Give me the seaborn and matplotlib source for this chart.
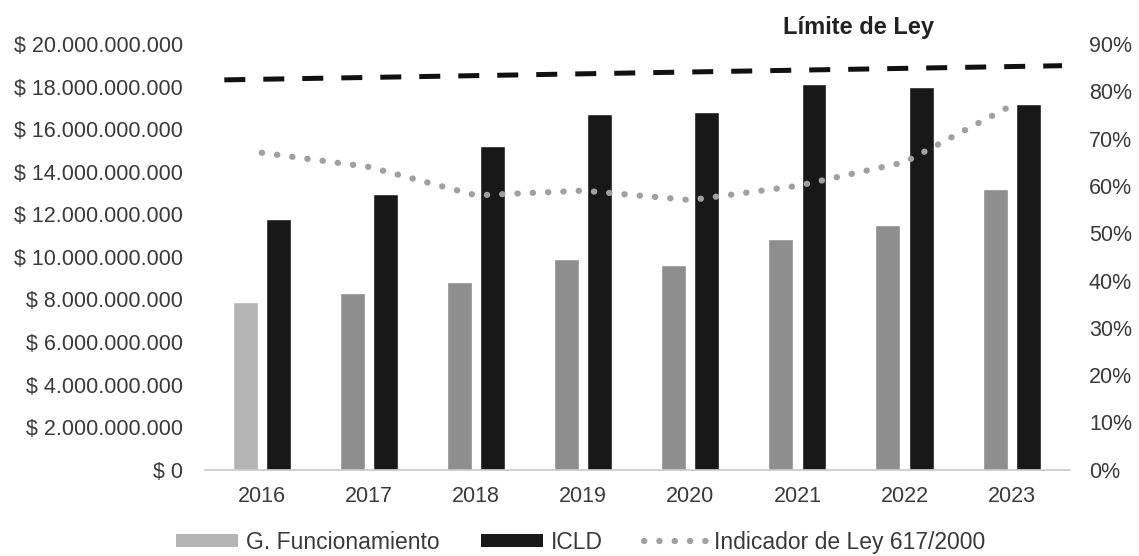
import pandas as pd
import matplotlib.pyplot as plt
import matplotlib.ticker as mticker
import seaborn as sns
from matplotlib.patches import Patch
from matplotlib.lines import Line2D

years = ['2016', '2017', '2018', '2019', '2020', '2021', '2022', '2023']
g_funcionamiento = [7.9e9, 8.3e9, 8.8e9, 9.9e9, 9.6e9, 10.85e9, 11.5e9, 13.2e9]
icld = [11.8e9, 12.95e9, 15.2e9, 16.7e9, 16.8e9, 18.1e9, 18.0e9, 17.2e9]
indicador = [67, 64, 58, 59, 57, 60, 65, 77]
limite_x = [-0.35, 7.47]
limite = [82.4, 85.4]

gf_colors = ['#b4b4b4', '#8e8e8e', '#8e8e8e', '#8e8e8e', '#8e8e8e', '#8e8e8e', '#8e8e8e', '#8e8e8e']
icld_color = '#181818'
dot_color = '#a0a0a0'
text_color = '#3a3a3a'
dot_style = (0, (0.05, 2.4))

df = pd.DataFrame({
    'year': years * 2,
    'value': g_funcionamiento + icld,
    'serie': ['G. Funcionamiento'] * len(years) + ['ICLD'] * len(years),
})

sns.set_style('white')
plt.rcParams['font.family'] = ['Liberation Sans', 'DejaVu Sans']

fig = plt.figure(figsize=(11.39, 5.56), dpi=100)
ax = fig.add_axes([0.18, 0.155, 0.759, 0.766])

sns.barplot(data=df, x='year', y='value', hue='serie', ax=ax,
            palette=['#8e8e8e', icld_color], width=0.62, gap=0.25,
            legend=False, saturation=1)

# per-bar shading for G. Funcionamiento
for bar, c in zip(ax.containers[0], gf_colors):
    bar.set_facecolor(c)
for bar in ax.containers[1]:
    bar.set_facecolor(icld_color)

ax.set_ylim(0, 20e9)
ax.set_xlim(-0.53, 7.54)
ax.yaxis.set_major_locator(mticker.MultipleLocator(2e9))
ax.yaxis.set_major_formatter(mticker.FuncFormatter(
    lambda v, p: '$ ' + f'{int(round(v)):,}'.replace(',', '.')))
ax.set_xlabel('')
ax.set_ylabel('')
ax.tick_params(axis='y', labelsize=15.5, labelcolor=text_color, length=0, pad=16)
ax.tick_params(axis='x', labelsize=15.5, labelcolor=text_color, length=0, pad=12)
for s in ['top', 'right', 'left']:
    ax.spines[s].set_visible(False)
ax.spines['bottom'].set_color('#c8c8c8')
ax.spines['bottom'].set_linewidth(1.2)

ax2 = ax.twinx()
ax2.set_ylim(0, 90)
ax2.yaxis.set_major_locator(mticker.MultipleLocator(10))
ax2.yaxis.set_major_formatter(mticker.FuncFormatter(lambda v, p: f'{int(v)}%'))
ax2.tick_params(axis='y', labelsize=15.5, labelcolor=text_color, length=0, pad=14)
for s in ax2.spines.values():
    s.set_visible(False)

ax2.plot(range(len(years)), indicador, color=dot_color, linewidth=4.5,
         linestyle=dot_style, dash_capstyle='round')
ax2.plot(limite_x, limite, color='#111111', linewidth=3.6,
         linestyle=(0, (4.2, 3.6)))

fig.text(0.754, 0.95, 'Límite de Ley', fontsize=17, fontweight='bold',
         color='#222222', ha='center', va='center')

handles = [
    Patch(facecolor='#b4b4b4', edgecolor='none'),
    Patch(facecolor=icld_color, edgecolor='none'),
    Line2D([0], [0], color=dot_color, linewidth=4.5,
           linestyle=dot_style, dash_capstyle='round'),
]
fig.legend(handles, ['G. Funcionamiento', 'ICLD', 'Indicador de Ley 617/2000'],
           loc='center', bbox_to_anchor=(0.51, 0.025), ncol=3, frameon=False,
           fontsize=16.5, handlelength=2.7, handleheight=0.45, columnspacing=1.8,
           handletextpad=0.35, labelcolor=text_color)

fig.savefig('out.png', dpi=100, facecolor='white')
